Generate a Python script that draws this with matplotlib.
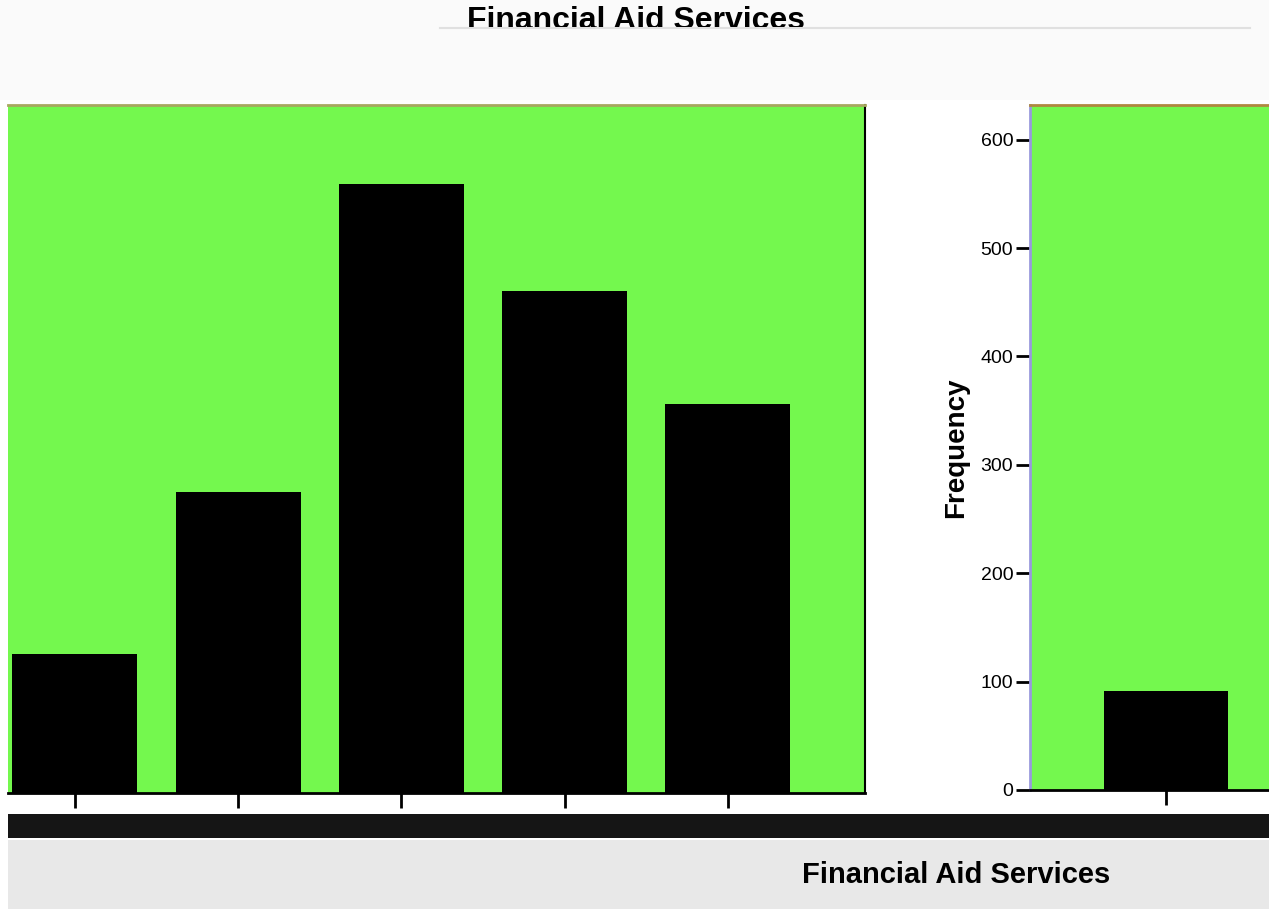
import matplotlib.pyplot as plt
from matplotlib.patches import Rectangle
from matplotlib.transforms import Bbox
from matplotlib.lines import Line2D

plt.rcParams['font.family'] = ['Liberation Sans', 'DejaVu Sans']

# left panel (partial chart, y axis cut off)
left_pos = [0, 1, 2, 3, 4]
left_counts = [128, 278, 562, 463, 359]

# right panel
right_pos = [0]
right_counts = [91]
right_yticks = [0, 100, 200, 300, 400, 500, 600]

title = "Financial Aid Services"
green = '#74f84e'

W, H = 1269, 909
fig = plt.figure(figsize=(W / 100, H / 100), dpi=100)
fig.patch.set_facecolor('white')


def box(x0, y0, x1, y1):
    # pixel box (top-left origin) -> figure fractions
    return [x0 / W, 1 - y1 / H, (x1 - x0) / W, (y1 - y0) / H]


# background bands
fig.patches.append(Rectangle((0, 1 - 100 / H), 1, 100 / H, transform=fig.transFigure,
                             facecolor='#fafafa', edgecolor='none', zorder=0))
fig.patches.append(Rectangle((8 / W, 0), 1, (H - 840) / H, transform=fig.transFigure,
                             facecolor='#e8e8e8', edgecolor='none', zorder=0))
fig.patches.append(Rectangle((8 / W, 1 - 838 / H), 1, 24 / H, transform=fig.transFigure,
                             facecolor='#151515', edgecolor='none', zorder=0))
fig.lines.append(Line2D([440 / W, 1250 / W], [1 - 28 / H, 1 - 28 / H],
                        transform=fig.transFigure, color='#e0e0e0', lw=1.5))

# left panel
ax1 = fig.add_axes(box(8, 105, 865, 793))
ax1.set_facecolor(green)
ax1.bar(left_pos, left_counts, width=0.766, color='black')
ax1.set_xlim(-0.41, 4.84)
ax1.set_ylim(0, 635)
ax1.set_xticks(left_pos)
ax1.set_xticklabels([])
ax1.set_yticks([])
ax1.tick_params(axis='x', direction='out', length=11, width=2)
ax1.spines['left'].set_visible(False)
ax1.spines['top'].set_color('#a8a860')
ax1.spines['top'].set_linewidth(2)
ax1.spines['bottom'].set_linewidth(2)
ax1.spines['right'].set_linewidth(1.5)

# right panel
ax2 = fig.add_axes(box(1030, 105, 1300, 790))
ax2.set_facecolor(green)
ax2.bar(right_pos, right_counts, width=0.76, color='black')
ax2.set_xlim(-0.834, 0.822)
ax2.set_ylim(0, 632)
ax2.set_xticks(right_pos)
ax2.set_xticklabels([])
ax2.set_yticks(right_yticks)
ax2.tick_params(axis='y', direction='out', length=10, width=2, labelsize=14, pad=2)
ax2.tick_params(axis='x', direction='out', length=11, width=2)
ax2.spines['left'].set_color('#9999dd')
ax2.spines['left'].set_linewidth(2)
ax2.spines['top'].set_color('#b08840')
ax2.spines['top'].set_linewidth(2)
ax2.spines['bottom'].set_linewidth(2)
ax2.spines['right'].set_visible(False)
ax2.set_ylabel("Frequency", fontsize=20, fontweight='bold', labelpad=8)

# titles (top one is cut off along its lower edge)
t = fig.text(636 / W, 1 - 21 / H, title, ha='center', va='center',
             fontsize=23, fontweight='bold')
t.set_clip_box(Bbox([[0, H - 27], [W, H]]))
t.set_clip_on(True)
fig.text(956 / W, 1 - 875 / H, title, ha='center', va='center',
         fontsize=21, fontweight='bold')

plt.savefig('out.png', dpi=100)
